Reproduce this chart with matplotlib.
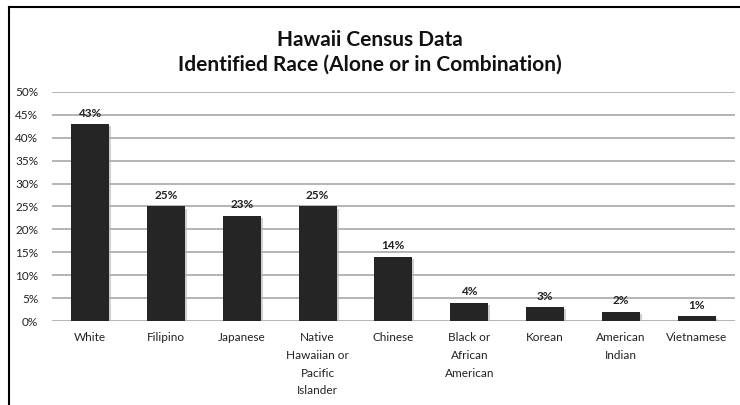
import numpy as np
import matplotlib.pyplot as plt
import matplotlib.patheffects as pe
from matplotlib.lines import Line2D

categories = ["White", "Filipino", "Japanese", "Native\nHawaiian or\nPacific\nIslander",
              "Chinese", "Black or\nAfrican\nAmerican", "Korean", "American\nIndian", "Vietnamese"]
percent = [43, 25, 23, 25, 14, 4, 3, 2, 1]
yticks = [0, 5, 10, 15, 20, 25, 30, 35, 40, 45, 50]

plt.rcParams['font.family'] = ['Lato', 'DejaVu Sans']

fig = plt.figure(figsize=(7.4, 4.05), dpi=100)
ax = fig.add_axes([0.0703, 0.2074, 0.9227, 0.5656])

x = np.arange(len(categories))
bars = ax.bar(x, percent, width=0.5, color="#252525", zorder=3)
for b in bars:
    b.set_path_effects([pe.SimplePatchShadow(offset=(1.5, -1.5), shadow_rgbFace="#b0b0b0", alpha=0.6),
                        pe.Normal()])

for xi, v in zip(x, percent):
    ax.text(xi, v + 1.2, f"{v}%", ha="center", va="bottom", fontsize=8.5, fontweight="bold", color="#222222")

ax.set_xlim(-0.5, len(categories) - 0.5)
ax.set_ylim(0, 50)
ax.set_yticks(yticks)
ax.set_yticklabels([f"{t}%" for t in yticks], fontsize=8.5, color="#222222")
ax.set_xticks(x)
ax.set_xticklabels(categories, fontsize=8.5, color="#222222", linespacing=1.75)
ax.tick_params(axis="both", length=0, pad=8)
ax.tick_params(axis="y", pad=10)
ax.yaxis.grid(True, color="#a8a8a8", linewidth=1.2, zorder=0)
for s in ax.spines.values():
    s.set_visible(False)

fig.text(0.5, 1 - 40 / 405, "Hawaii Census Data", ha="center", va="center", fontsize=15,
         fontweight="bold", color="#111111")
fig.text(0.5, 1 - 65 / 405, "Identified Race (Alone or in Combination)", ha="center", va="center",
         fontsize=15, fontweight="bold", color="#111111")

# outer frame
fig.add_artist(Line2D([9 / 740, 9 / 740], [0, 1 - 7 / 405], color="black", linewidth=1.5))
fig.add_artist(Line2D([9 / 740, 1], [1 - 7 / 405, 1 - 7 / 405], color="black", linewidth=1.5))

fig.savefig("out.png", dpi=100)
